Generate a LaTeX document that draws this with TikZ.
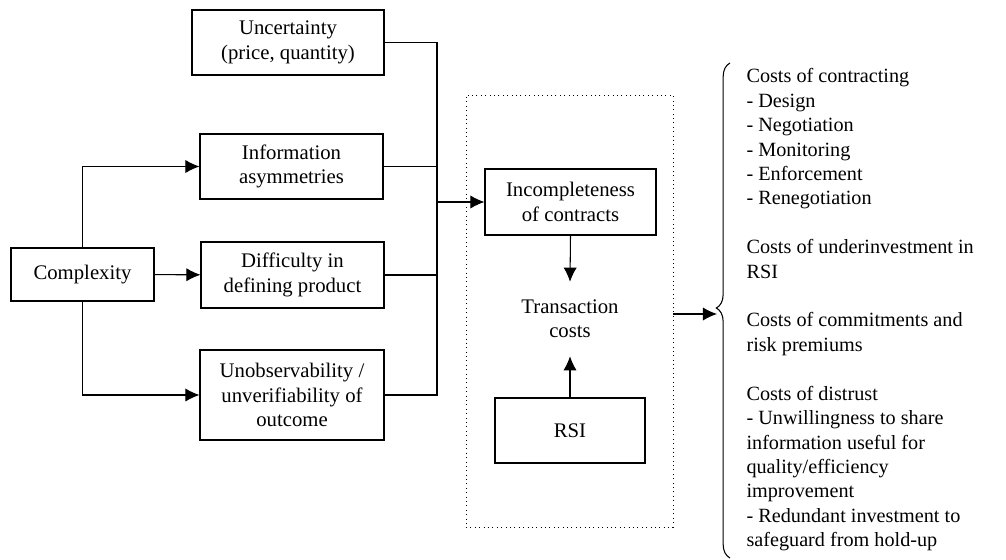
\documentclass[tikz,border=0pt]{standalone}
\usepackage{fontspec}
\setmainfont{Liberation Serif}
\usetikzlibrary{arrows.meta,decorations.pathreplacing}
\begin{document}
\begin{tikzpicture}[x=0.02cm,y=-0.02cm,line width=0.6pt,font=\fontsize{11.8}{13.9}\selectfont,
        >={Latex[length=8pt,width=7.5pt]},
        box/.style={draw,align=center,inner sep=2pt},
        frame/.style={draw,dotted,line width=0.5pt}]
        \useasboundingbox (0,0) rectangle (1006,560);
        \node[box,minimum width=3.84cm,minimum height=1.3cm](unc)at(288,42.5){Uncertainty\\(price, quantity)};
        \node[box,minimum width=3.66cm,minimum height=1.3cm](info)at(291.5,166.5){Information\\asymmetries};
        \node[box,minimum width=3.66cm,minimum height=1.32cm](diff)at(292.5,275){Difficulty in\\defining product};
        \node[box,minimum width=3.68cm,minimum height=1.8cm](unobs)at(292,395){Unobservability /\\unverifiability of\\outcome};
        \node[box,minimum width=2.86cm,minimum height=1.06cm](cplx)at(82.5,274.5){Complexity};
        \node[frame,minimum width=4.14cm,minimum height=8.64cm](tcbox)at(569.5,311){};
        \node[box,minimum width=3.42cm,minimum height=1.32cm](inc)at(570.5,202){Incompleteness\\of contracts};
        \node[align=center,inner xsep=2pt,inner ysep=10pt](tc)at(570,319){Transaction\\costs};
        \node[box,minimum width=3cm,minimum height=1.3cm](rsi)at(570,430.5){RSI};
        \coordinate(bus)at(437,202);
        \coordinate(tip)at(717,314);
        % complexity feeds three drivers
        \draw[->](cplx.north)|-(info.west);
        \draw[->](cplx)--(diff);
        \draw[->](cplx.south)|-(unobs.west);
        % drivers join into one line
        \draw(unc.east)-|(bus);
        \draw(unobs.east)-|(bus);
        \foreach \n in {info,diff} \draw(\n.east)--(\n.east-|bus);
        \draw[->](bus)--(inc.west);
        \draw[->](inc.south)--(tc.north);
        \draw[->](rsi.north)--(tc.south);
        \draw[->](tcbox.east|-tip)--(tip);
        \draw[decorate,decoration={brace,amplitude=13\pgflinewidth,aspect=0.505}](730,558)--(730,63);
        \node[anchor=north west,align=left,inner sep=0pt,font=\fontsize{11.5}{13.9}\selectfont](costs)at(746,68){Costs of contracting\\- Design\\- Negotiation\\- Monitoring\\- Enforcement\\- Renegotiation\\[13.9pt]
        Costs of underinvestment in\\RSI\\[13.9pt]
        Costs of commitments and\\risk premiums\\[13.9pt]
        Costs of distrust\\- Unwillingness to share\\information useful for\\quality/efficiency\\improvement\\- Redundant investment to\\safeguard from hold-up};
    \end{tikzpicture}
\end{document}
